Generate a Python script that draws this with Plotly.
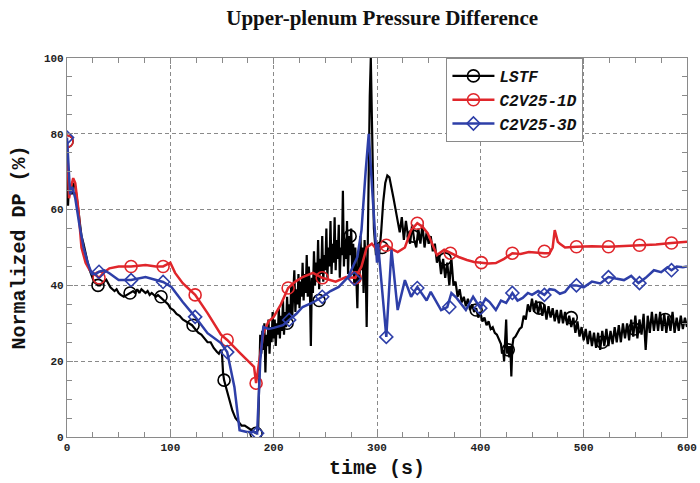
import plotly.graph_objects as go

# ---------------- data ----------------
lstf_t = [0, 1, 2, 3, 4, 5, 6, 8, 10, 12,
          14, 16, 18, 20, 22, 24, 26, 28, 30, 32,
          34, 36, 38, 40, 42, 44, 46, 48, 50, 52,
          55, 58, 61, 64, 66, 68, 70, 72, 74, 76,
          78, 80, 82, 84, 86, 88, 90, 92, 95, 98,
          100, 103, 106, 109, 112, 115, 118, 121, 124, 127,
          130, 133, 136, 139, 142, 145, 147, 149, 150, 151,
          152, 154, 157, 160, 163, 166, 169, 172, 175, 178,
          181, 183, 185,
          186, 187, 188, 189, 190, 191, 192, 193, 194, 195,
          196, 197, 198, 199, 200, 201, 202, 203, 204, 205,
          206, 207, 208, 209, 210, 211, 212, 213, 214, 215,
          216, 217, 218, 219, 220, 221, 222, 223, 224, 225,
          226, 227, 228, 229, 230, 231, 232, 233, 234, 235,
          236, 237, 238, 239, 240, 241, 242, 243, 244, 245,
          246, 247, 248, 249, 250, 251, 252, 253, 254, 255,
          256, 257, 258, 259, 260, 261, 262, 263, 264, 265,
          266, 267, 268, 269, 270, 271, 272, 273, 274, 275,
          276, 277, 278, 279, 280, 281, 282, 283, 284, 285,
          286, 287, 288, 289, 290, 291, 292, 293, 294, 295,
          296, 297, 298, 299, 300,
          302, 304, 306, 308, 310, 312, 314, 316, 318, 320,
          322, 324, 326, 328, 330, 332, 334, 336, 338, 340,
          342, 344, 346, 348, 350, 352, 354, 356, 358, 360,
          362, 364, 366, 368, 370, 372, 374, 376, 378, 380,
          382, 384, 386, 388, 390, 392, 394, 396, 398, 400,
          402, 404, 406, 408, 410, 412, 414, 416, 418, 420,
          421, 422, 423, 424, 425, 426, 427, 428, 429, 430,
          431, 432, 434, 436, 438, 440,
          442, 444, 446, 448, 450, 452, 454, 456, 458, 460,
          462, 464, 466, 468, 470, 472, 474, 476, 478, 480,
          482, 484, 486, 488, 490, 492, 494, 496, 498, 500,
          502, 504, 506, 508, 510, 512, 514, 516, 518, 520,
          522, 524, 526, 528, 530, 532, 534, 536, 538, 540,
          542, 544, 546, 548, 550, 552, 554, 556, 558, 560,
          562, 564, 566, 568, 570, 572, 574, 576, 578, 580,
          582, 584, 586, 588, 590, 592, 594, 596, 598, 600]
lstf_v = [78, 61, 67, 64, 66.5, 64, 67, 66, 62, 57,
          53, 51, 48, 46, 44, 42.5, 41, 40.5, 40, 40,
          40.5, 41, 41.5, 40.5, 39.5, 39, 38.5, 39, 38, 37.5,
          37, 37.5, 38, 38.5, 38, 39, 38, 39, 38.5, 38,
          38.5, 37.5, 38, 37.5, 37, 37.5, 37, 36.5, 36, 35,
          34, 33.5, 32.5, 32, 31, 30.5, 30, 29.5, 28.5, 27.5,
          27, 26, 25, 25, 23.5, 22.5, 22, 23, 22, 17,
          15, 13, 10, 7, 5, 4, 3, 3, 2.5, 2,
          1.5, 1, 2,
          20, 27, 22, 28, 23, 30, 17, 27, 24, 31,
          22, 29, 25, 33, 26, 31, 24, 30, 27, 34,
          26, 32, 28, 36, 27, 33, 29, 37, 30, 35,
          31, 40, 32, 38, 44, 33, 39, 35, 43, 34,
          41, 37, 46, 36, 43, 38, 48, 37, 45, 40,
          24, 42, 38, 49, 40, 46, 41, 52, 39, 47,
          43, 53, 41, 48, 44, 55, 42, 50, 45, 57,
          43, 51, 46, 58, 44, 52, 47, 56, 42, 50,
          48, 65, 45, 52, 47, 57, 43, 53, 48, 55,
          44, 51, 40, 50, 43, 34, 48, 41, 53, 44,
          50, 38, 52, 45, 29, 55, 72, 90, 100, 88,
          70, 55, 50, 48, 51,
          48, 54, 62, 67, 69, 68.5, 66, 63, 60, 57,
          54, 58, 52, 57, 53, 51, 56, 52, 50, 55,
          51, 56, 50, 54, 51, 53, 49, 51, 46, 48,
          43, 47, 42, 46, 40, 47, 40, 41, 37, 39,
          35.5, 37, 34.5, 36.5, 33.5, 35, 33, 34, 31.5, 33,
          30.5, 31.5, 29.5, 30.5, 28.5, 29, 27.5, 27, 25.5, 24.5,
          22, 23, 20, 27, 31, 22, 24, 21, 24, 16,
          24, 26, 26.5, 27.5, 28.5, 29,
          32, 31, 35, 33, 36.5, 33, 36, 32.5, 35.5, 32,
          35, 31, 34.5, 31.5, 34, 30.5, 33.5, 30, 33.5, 30,
          33, 29.5, 32, 29, 31.5, 27.5, 30.5, 26.5, 29, 25.5,
          28.5, 24.5, 28, 24, 27.5, 23.5, 27.5, 23, 28, 24,
          28.5, 24, 28, 24.5, 29, 25, 29.5, 25, 30, 26,
          30, 25.5, 31, 26.5, 32, 26, 31, 27, 32.5, 23,
          32, 27.5, 33, 28, 32.5, 28, 33, 28, 32.5, 27.5,
          32, 28, 33, 27.5, 31.5, 28, 32, 28.5, 31.5, 29]
lstf_mark_t = [0, 30, 61, 91, 122, 152, 183, 213, 244, 274, 305, 335, 366, 396, 427, 457, 488, 518, 549, 579]
lstf_mark_v = [78, 40, 38, 37, 29.5, 15, 1, 30, 36, 53, 50, 53, 47, 33.5, 23, 34, 31.5, 25, 28.5, 31]

c1d_t = [0, 2, 4, 6, 8, 11, 14, 18, 22, 26, 31, 36, 41, 50, 62, 76, 86, 93, 100, 104.6, 112, 124,
         136, 149, 155, 168, 181, 183, 186, 190, 195, 200, 207, 214, 221, 228, 238, 247, 260, 270,
         279, 285, 290, 295, 300, 305, 309, 315, 320, 327, 333, 339, 344, 349, 353, 358, 365, 371,
         379, 387, 394, 401, 408, 415, 423, 431, 439, 447, 455, 462, 467, 470, 472, 475, 477, 482,
         493, 508, 524, 539, 554, 570, 585, 600]
c1d_v = [78, 63, 66, 68.3, 67, 60, 50, 46, 44, 43, 42, 43.5, 44.5, 45, 45, 45.4, 45, 45, 46, 43.3,
         40.6, 37.5, 32.7, 27, 25.6, 22, 18.5, 14.2, 20, 27.4, 30.5, 31.7, 35, 39.3, 41, 42.2, 43.3,
         42, 41, 42.2, 42, 45, 50, 51, 49.4, 50, 50.6, 49.5, 48.8, 50, 54.6, 56.4, 55.5, 53.8, 51,
         48, 49.4, 48.5, 47.5, 46.7, 46.2, 46, 45.8, 45.9, 47, 48.5, 48.3, 48.8, 48.6, 48.5, 48.5,
         50, 54.6, 51.5, 51, 50, 50.2, 50.3, 50.2, 50.4, 50.6, 50.8, 51.2, 51.5]
c1d_mark_t = [0, 31, 62, 93, 124, 155, 183, 214, 247, 279, 309, 339, 371, 401, 431, 462, 493, 524, 554, 585]
c1d_mark_v = [78, 42, 45, 45, 37.5, 25.6, 14.2, 39.3, 42, 42, 50.6, 56.4, 48.5, 46, 48.5, 49, 50.2, 50.2, 50.6, 51.2]

c3d_t = [0, 3, 5, 8, 12, 16, 20, 24, 28, 31, 36, 41, 50, 62, 76, 93, 101, 112, 124, 136, 149, 155,
         162, 167, 174, 181, 184, 187, 190, 195, 200, 203, 209, 215, 222, 228, 238, 247, 255, 263,
         272, 281, 285, 289, 292, 296, 300, 301, 304, 309, 314, 320, 327, 333, 339, 348, 352, 358,
         362, 368, 372, 377, 382, 386, 393, 400, 405, 409, 415, 420, 425, 431, 436, 441, 446, 450,
         456, 462, 467, 472, 477, 482, 487, 493, 500, 508, 516, 524, 531, 539, 546, 553, 560, 568,
         575, 581, 585, 590, 596, 600]
c3d_v = [79, 64, 66, 63, 56, 50, 46, 43, 43, 43.6, 44, 43.2, 41.4, 41.4, 42.2, 40.9, 39.6, 35.6,
         31.7, 27.4, 24.8, 22.4, 13.2, 1.8, 1.3, 1.3, 1, 20, 29, 28.5, 28.8, 29, 29.5, 30.9, 32.5,
         34.3, 35.5, 37, 38.5, 39.6, 42.2, 47.5, 54.6, 70, 80, 62.5, 46, 51, 42.2, 26.4, 49.4, 33.5,
         41.4, 37, 39.6, 36, 38.3, 35.6, 33.5, 34.3, 38, 36.7, 35, 33.5, 37, 34, 36.5, 35.6, 33.5,
         36, 35.4, 38, 36, 36.7, 38, 37.5, 38.5, 37.5, 39, 38.8, 37.8, 38.3, 40, 40, 39.5, 41, 40.5,
         42.2, 41.8, 41.4, 42.5, 40.6, 42, 44, 43.5, 44.8, 44, 45, 44.8, 45]
c3d_mark_t = [0, 31, 62, 93, 124, 155, 184, 215, 247, 278, 309, 339, 370, 400, 431, 462, 493, 524, 554, 585]
c3d_mark_v = [79, 43.6, 41.4, 40.9, 31.7, 22.4, 1, 30.9, 37, 41.8, 26.4, 39.3, 34.3, 34, 38, 37.5, 40, 42.2, 40.6, 44]

names = ["LSTF", "C2V25-1D", "C2V25-3D"]
colors = ["#000000", "#e0262b", "#2e3fa8"]
symbols = ["circle-open", "circle-open", "diamond-open"]

x_ticks = [0, 100, 200, 300, 400, 500, 600]
y_ticks = [0, 20, 40, 60, 80, 100]

# ---------------- figure ----------------
fig = go.Figure()
series = [(lstf_t, lstf_v, lstf_mark_t, lstf_mark_v),
          (c1d_t, c1d_v, c1d_mark_t, c1d_mark_v),
          (c3d_t, c3d_v, c3d_mark_t, c3d_mark_v)]
widths = [2.2, 2.5, 2.5]
msize = [12, 12, 10]

for (t, v, mt, mv), name, col, sym, w, ms in zip(series, names, colors, symbols, widths, msize):
    fig.add_trace(go.Scatter(x=t, y=v, mode="lines", line=dict(color=col, width=w),
                             showlegend=False, hoverinfo="skip"))
    fig.add_trace(go.Scatter(x=mt, y=mv, mode="markers",
                             marker=dict(symbol=sym, size=ms, color=col, line=dict(width=1.6, color=col)),
                             showlegend=False, hoverinfo="skip"))
    fig.add_trace(go.Scatter(x=[None], y=[None], mode="lines+markers", name=name,
                             line=dict(color=col, width=w),
                             marker=dict(symbol=sym, size=ms, color=col, line=dict(width=1.6, color=col))))

mono = "Liberation Mono, Courier New, monospace"
axis_common = dict(
    showline=True, linecolor="#8a8a8a", linewidth=1.2, mirror="allticks",
    ticks="inside", ticklen=6, tickcolor="#8a8a8a", tickwidth=1,
    showgrid=True, gridcolor="#8a8a8a", gridwidth=1, griddash="4px,3px",
    zeroline=False, ticklabeloverflow="allow",
    tickfont=dict(family=mono, size=11, color="#222", weight="bold"),
)

fig.update_xaxes(range=[0, 600], tickvals=x_ticks, ticktext=[str(v) for v in x_ticks],
                 minor=dict(dtick=25, ticks="inside", ticklen=5, tickcolor="#8a8a8a", showgrid=False),
                 title=dict(text="time (s)", font=dict(family=mono, size=20, color="#111", weight="bold"),
                            standoff=6),
                 **axis_common)
fig.update_yaxes(range=[0, 100], tickvals=y_ticks, ticktext=[str(v) for v in y_ticks],
                 minor=dict(dtick=5, ticks="inside", ticklen=5, tickcolor="#8a8a8a", showgrid=False),
                 title=dict(text="Normalized DP (%)", font=dict(family=mono, size=20, color="#111", weight="bold"),
                            standoff=12),
                 **axis_common)

fig.update_layout(
    width=700, height=483,
    margin=dict(l=67, r=3, t=58, b=46),
    paper_bgcolor="white", plot_bgcolor="white",
    title=dict(text="Upper-plenum Pressure Difference", x=0.546, xanchor="center",
               y=0.963, yanchor="middle",
               font=dict(family="Liberation Serif, Times New Roman, serif", size=21, color="#111", weight="bold")),
    legend=dict(x=0.612, y=1, xanchor="left", yanchor="top", bgcolor="white",
                bordercolor="#8a8a8a", borderwidth=1,
                font=dict(family=mono, size=16, color="#111", weight="bold", style="italic"),
                itemwidth=42, entrywidth=95, tracegroupgap=0),
    showlegend=True,
)

fig.write_html("out.html", config={"displayModeBar": False},
               post_script="document.body.style.margin='0';")
